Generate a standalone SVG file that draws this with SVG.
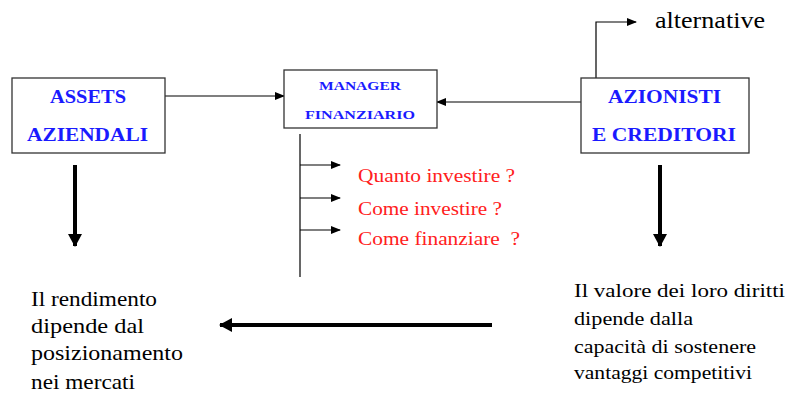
<svg xmlns="http://www.w3.org/2000/svg" width="789" height="394" viewBox="0 0 789 394">
<defs>
<style>
.box{fill:#fff;stroke:#333;stroke-width:1.3}
text{font-family:'Liberation Serif','Times New Roman','DejaVu Serif',serif}
.bt{font-weight:bold;fill:#1a1aff}
.ln{stroke:#000;stroke-width:1.2;fill:none}
.thick{stroke:#000;stroke-width:4;fill:none}
.red{font-size:19px;fill:#ff2020}
.lft{font-size:22px;fill:#000}
.rgt{font-size:19.5px;fill:#000}
.alt{font-size:23px;fill:#000}
</style>
<marker id="a" markerWidth="10" markerHeight="8" refX="9" refY="4" orient="auto" markerUnits="userSpaceOnUse"><path d="M0,0 L10,4 L0,8 z" fill="#000"/></marker>
<marker id="b" markerWidth="14" markerHeight="14" refX="12" refY="7" orient="auto" markerUnits="userSpaceOnUse"><path d="M0,0 L13,7 L0,14 z" fill="#000"/></marker>
</defs>
<rect width="789" height="394" fill="#fff"/>
<g id="connectors">
<line class="ln" x1="165" y1="96" x2="284" y2="96" marker-end="url(#a)"/>
<line class="ln" x1="581" y1="102" x2="437" y2="102" marker-end="url(#a)"/>
<polyline class="ln" points="596,78 596,22 636,22" marker-end="url(#a)"/>
<line class="ln" x1="300" y1="134" x2="300" y2="277"/>
<line class="ln" x1="300" y1="165" x2="340" y2="165" marker-end="url(#a)"/>
<line class="ln" x1="300" y1="198" x2="340" y2="198" marker-end="url(#a)"/>
<line class="ln" x1="300" y1="230" x2="340" y2="230" marker-end="url(#a)"/>
<line class="thick" x1="75" y1="165" x2="75" y2="246" marker-end="url(#b)"/>
<line class="thick" x1="660" y1="165" x2="660" y2="246" marker-end="url(#b)"/>
<line class="thick" x1="492" y1="325" x2="220" y2="325" marker-end="url(#b)"/>
</g>
<g id="assets">
<rect class="box" x="12" y="78" width="153" height="75"/>
<text class="bt" x="50" y="103" font-size="18" textLength="76" lengthAdjust="spacingAndGlyphs">ASSETS</text>
<text class="bt" x="27" y="141" font-size="18" textLength="121" lengthAdjust="spacingAndGlyphs">AZIENDALI</text>
</g>
<g id="manager">
<rect class="box" x="284" y="70" width="153" height="58"/>
<text class="bt" x="319" y="90" font-size="12.5" textLength="82" lengthAdjust="spacingAndGlyphs">MANAGER</text>
<text class="bt" x="305" y="119" font-size="12.5" textLength="110" lengthAdjust="spacingAndGlyphs">FINANZIARIO</text>
</g>
<g id="azionisti">
<rect class="box" x="581" y="78" width="168" height="75"/>
<text class="bt" x="608" y="103" font-size="18" textLength="113" lengthAdjust="spacingAndGlyphs">AZIONISTI</text>
<text class="bt" x="592" y="141" font-size="18" textLength="144" lengthAdjust="spacingAndGlyphs">E CREDITORI</text>
</g>
<g id="alternative">
<text class="alt" x="655" y="28" textLength="110" lengthAdjust="spacingAndGlyphs">alternative</text>
</g>
<g id="questions">
<text class="red" x="358" y="182" textLength="157" lengthAdjust="spacingAndGlyphs">Quanto investire ?</text>
<text class="red" x="358" y="215" textLength="144" lengthAdjust="spacingAndGlyphs">Come investire ?</text>
<text class="red" x="358" y="245" textLength="162" lengthAdjust="spacingAndGlyphs" xml:space="preserve">Come finanziare  ?</text>
</g>
<g id="rendimento">
<text class="lft" x="31" y="306" textLength="126" lengthAdjust="spacingAndGlyphs">Il rendimento</text>
<text class="lft" x="31" y="333" textLength="113" lengthAdjust="spacingAndGlyphs">dipende dal</text>
<text class="lft" x="31" y="360" textLength="152" lengthAdjust="spacingAndGlyphs">posizionamento</text>
<text class="lft" x="31" y="389" textLength="104" lengthAdjust="spacingAndGlyphs">nei mercati</text>
</g>
<g id="valore">
<text class="rgt" x="574" y="297" textLength="211" lengthAdjust="spacingAndGlyphs">Il valore dei loro diritti</text>
<text class="rgt" x="574" y="325" textLength="119" lengthAdjust="spacingAndGlyphs">dipende dalla</text>
<text class="rgt" x="574" y="353" textLength="182" lengthAdjust="spacingAndGlyphs">capacità di sostenere</text>
<text class="rgt" x="574" y="379" textLength="178" lengthAdjust="spacingAndGlyphs">vantaggi competitivi</text>
</g>
</svg>
